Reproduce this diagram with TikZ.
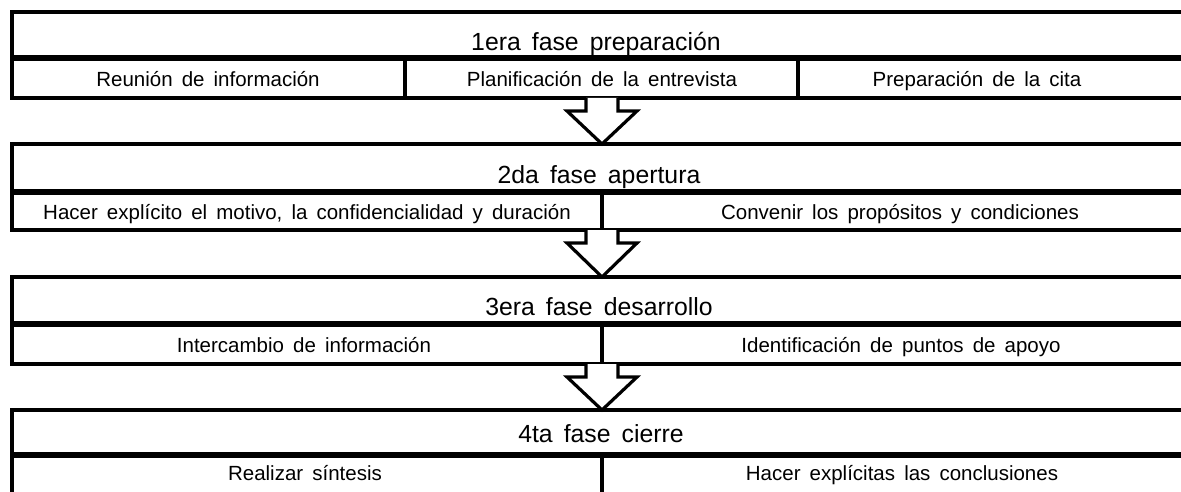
\documentclass[tikz,border=0pt]{standalone}
\usepackage{fontspec}
\setmainfont[WordSpace=1.6]{Liberation Sans}
\usetikzlibrary{calc}
\begin{document}
\begin{tikzpicture}[x=1pt,y=-1pt,
  cellbox/.style={draw=black,line width=3.2pt},
  ttl/.style={font=\fontsize{24.8}{29}\selectfont,anchor=base,inner sep=0pt},
  sub/.style={font=\fontsize{20.5}{24}\selectfont,anchor=base,inner sep=0pt},
  blockarrow/.style={draw=black,fill=white,line width=3.2pt,line join=miter}]
\useasboundingbox (0,0) rectangle (1181,492);
\clip (0,0) rectangle (1181,492);
% block 1
\draw[cellbox] (12,12) rectangle (1195,57);
\draw[cellbox] (12,59) rectangle (405,98);
\draw[cellbox] (405,59) rectangle (798,98);
\draw[cellbox] (798,59) rectangle (1195,98);
% block 2
\draw[cellbox] (12,144) rectangle (1195,191);
\draw[cellbox] (12,193) rectangle (602,230);
\draw[cellbox] (602,193) rectangle (1195,230);
% block 3
\draw[cellbox] (12,277) rectangle (1195,323);
\draw[cellbox] (12,325) rectangle (602,364);
\draw[cellbox] (602,325) rectangle (1195,364);
% block 4
\draw[cellbox] (12,410) rectangle (1195,454);
\draw[cellbox] (12,456) rectangle (602,500);
\draw[cellbox] (602,456) rectangle (1195,500);
% texts
\node[ttl] (t1) at (596,51) {1era fase preparación};
\node[sub] (s11) at (208,87) {Reunión de información};
\node[sub] (s12) at (602,87) {Planificación de la entrevista};
\node[sub] (s13) at (977,87) {Preparación de la cita};
\node[ttl] (t2) at (599,183) {2da fase apertura};
\node[sub] (s21) at (307,219) {Hacer explícito el motivo, la confidencialidad y duración};
\node[sub] (s22) at (900,219) {Convenir los propósitos y condiciones};
\node[ttl] (t3) at (599,315) {3era fase desarrollo};
\node[sub] (s31) at (304,352) {Intercambio de información};
\node[sub] (s32) at (901,352) {Identificación de puntos de apoyo};
\node[ttl] (t4) at (601,442) {4ta fase cierre};
\node[sub] (s41) at (305,480) {Realizar síntesis};
\node[sub] (s42) at (902,480) {Hacer explícitas las conclusiones};
% anchor coordinates for the arrows
\coordinate (b1s) at (602,98);  \coordinate (b2n) at (602,144);
\coordinate (b2s) at (602,230); \coordinate (b3n) at (602,277);
\coordinate (b3s) at (602,364); \coordinate (b4n) at (602,410);
\foreach \a/\b in {b1s/b2n,b2s/b3n,b3s/b4n}{
  \draw[blockarrow] ($(\a)+(-16,0)$) -- ++(0,13) -- ++(-19,0) -- (\b)
    -- ($(\a)+(35,13)$) -- ++(-19,0) -- ++(0,-13);
}
\end{tikzpicture}
\end{document}
